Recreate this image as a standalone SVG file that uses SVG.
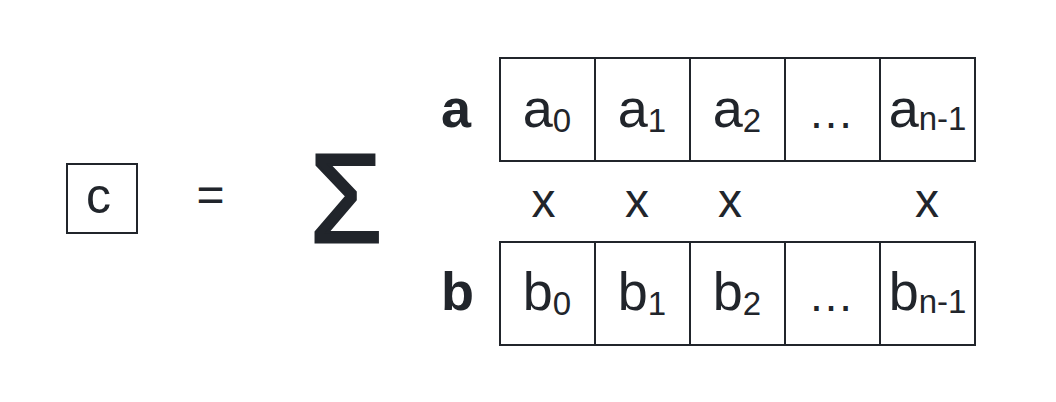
<svg xmlns="http://www.w3.org/2000/svg" width="1056" height="402" viewBox="0 0 1056 402">
<style>
  .box { fill: #ffffff; stroke: #21252b; stroke-width: 2; }
  .ln { stroke: #21252b; stroke-width: 2; fill: none; }
  .t { font-family: "Liberation Sans", Arial, sans-serif; fill: #21252b; }
  .cell { font-size: 54px; text-anchor: middle; }
  .sub { font-size: 33px; }
  .lbl { font-size: 54px; font-weight: bold; }
  .x { font-size: 48px; text-anchor: middle; }
</style>
<rect width="1056" height="402" fill="#ffffff"/>

<g id="node-c">
  <rect class="box" x="67" y="164" width="70" height="69"/>
  <text class="t" x="98.5" y="213" font-size="50" text-anchor="middle">c</text>
</g>

<g id="equals">
  <text class="t" x="210.5" y="211" font-size="48" text-anchor="middle">=</text>
</g>

<g id="sigma">
  <text class="t" x="0" y="0" font-size="126" text-anchor="middle" stroke="#21252b" stroke-width="3" stroke-linejoin="miter" transform="translate(346 242) scale(0.93 1)">Σ</text>
</g>

<g id="array-a">
  <text class="t lbl" x="441" y="127">a</text>
  <rect class="box" x="500" y="58" width="475" height="103"/>
  <line class="ln" x1="595" y1="58" x2="595" y2="161"/>
  <line class="ln" x1="690" y1="58" x2="690" y2="161"/>
  <line class="ln" x1="785" y1="58" x2="785" y2="161"/>
  <line class="ln" x1="880" y1="58" x2="880" y2="161"/>
  <text class="t cell" x="547" y="127">a<tspan class="sub" dy="5">0</tspan></text>
  <text class="t cell" x="642" y="127">a<tspan class="sub" dy="5">1</tspan></text>
  <text class="t cell" x="737" y="127">a<tspan class="sub" dy="5">2</tspan></text>
  <text class="t" x="831" y="128" font-size="46" text-anchor="middle">…</text>
  <text class="t cell" x="927.5" y="127">a<tspan class="sub" dy="3">n-1</tspan></text>
</g>

<g id="times">
  <text class="t x" x="543.5" y="217">x</text>
  <text class="t x" x="637" y="217">x</text>
  <text class="t x" x="730" y="217">x</text>
  <text class="t x" x="927" y="217">x</text>
</g>

<g id="array-b">
  <text class="t lbl" x="441" y="310">b</text>
  <rect class="box" x="500" y="242" width="475" height="103"/>
  <line class="ln" x1="595" y1="242" x2="595" y2="345"/>
  <line class="ln" x1="690" y1="242" x2="690" y2="345"/>
  <line class="ln" x1="785" y1="242" x2="785" y2="345"/>
  <line class="ln" x1="880" y1="242" x2="880" y2="345"/>
  <text class="t cell" x="547" y="310">b<tspan class="sub" dy="5">0</tspan></text>
  <text class="t cell" x="642" y="310">b<tspan class="sub" dy="5">1</tspan></text>
  <text class="t cell" x="737" y="310">b<tspan class="sub" dy="5">2</tspan></text>
  <text class="t" x="831" y="311" font-size="46" text-anchor="middle">…</text>
  <text class="t cell" x="927.5" y="310">b<tspan class="sub" dy="3">n-1</tspan></text>
</g>

<g id="connectors"></g>
</svg>
